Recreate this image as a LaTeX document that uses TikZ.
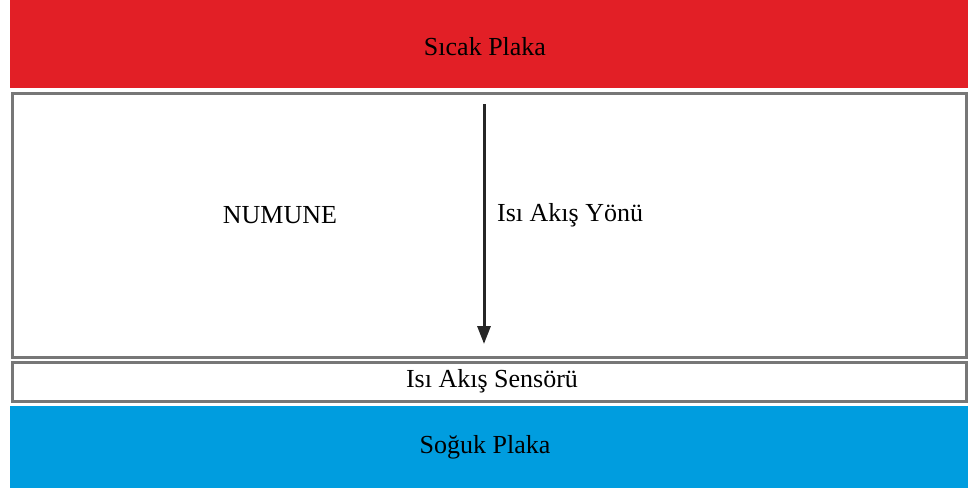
\documentclass[tikz,border=0pt]{standalone}
\usepackage{fontspec}
\setmainfont{Liberation Serif}
\usetikzlibrary{arrows.meta}
\definecolor{hotred}{HTML}{E21F26}
\definecolor{coldblue}{HTML}{009DDF}
\definecolor{frame}{HTML}{777777}
\begin{document}
\begin{tikzpicture}[x=1pt,y=-1pt,
  lbl/.style={font=\fontsize{26}{30}\selectfont, inner sep=0pt},
  framed/.style={draw=frame, line width=3pt, fill=white}]
\useasboundingbox (0,0) rectangle (970,490);
\fill[white] (0,0) rectangle (970,490);
% hot plate
\fill[hotred] (10,0) rectangle (968,88);
\node[lbl] (hot) at (485,47) {Sıcak Plaka};
% sample
\draw[framed] (12,93) rectangle (966,357);
\node[lbl] (sample) at (280,215) {NUMUNE};
\node[lbl, anchor=west] (dir) at (497,215) {Isı Akış Yönü};
\coordinate (atop) at (484,104);
\coordinate (abot) at (484,344);
\draw[line width=3pt, black!85, -{Triangle[length=18pt,width=13pt]}] (atop) -- (abot);
% sensor
\draw[framed] (12,362) rectangle (966,401);
\node[lbl] (sensor) at (492,381) {Isı Akış Sensörü};
% cold plate
\fill[coldblue] (10,406) rectangle (968,488);
\node[lbl] (cold) at (485,447) {Soğuk Plaka};
\end{tikzpicture}
\end{document}
